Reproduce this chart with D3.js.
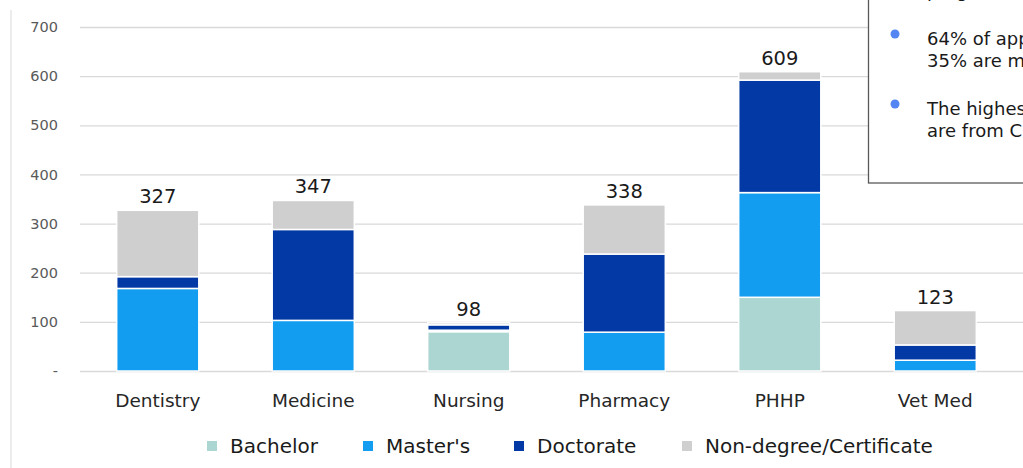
<!DOCTYPE html>
<html>
<head>
<meta charset="utf-8">
<script src="https://cdn.jsdelivr.net/npm/d3@7"></script>
<style>
  html, body { margin: 0; padding: 0; background: #fff; }
  svg { display: block; font-family: "DejaVu Sans", sans-serif; }
</style>
</head>
<body>
<svg id="chart" width="1023" height="468"></svg>
<script>
// ---- data ----
const categories = ["Dentistry", "Medicine", "Nursing", "Pharmacy", "PHHP", "Vet Med"];
const seriesNames = ["Bachelor", "Master's", "Doctorate", "Non-degree/Certificate"];
const bachelor   = [0,   0,   80, 0,   150, 0];
const masters    = [168, 103, 3,  79,  213, 22];
const doctorate  = [24,  185, 11, 159, 229, 31];
const nonDegree  = [135, 59,  4,  100, 17,  70];
const totals     = [327, 347, 98, 338, 609, 123];
const yTicks     = [0, 100, 200, 300, 400, 500, 600, 700];
const colors     = ["#acd6d2", "#139df0", "#0339a5", "#d0cfd0"];
const notes = [
  ["programs."],
  ["64% of applicants are female and", "35% are male."],
  ["The highest number of applicants", "are from China."]
];

// ---- build ----
const svg = d3.select("#chart");
const W = 1023, H = 468;

const rows = categories.map((c, i) => ({
  cat: c,
  "Bachelor": bachelor[i],
  "Master's": masters[i],
  "Doctorate": doctorate[i],
  "Non-degree/Certificate": nonDegree[i]
}));

const x = d3.scaleBand().domain(categories).range([80, 1013]).paddingInner(0.472).paddingOuter(0.236);
const y = d3.scaleLinear().domain([0, 700]).range([371, 27]);
const color = d3.scaleOrdinal().domain(seriesNames).range(colors);

// left border line
svg.append("line").attr("x1", 11).attr("x2", 11).attr("y1", 10).attr("y2", H)
  .attr("stroke", "#d9d9d9").attr("stroke-width", 1);

// gridlines + tick labels
const yAxis = d3.axisLeft(y).tickValues(yTicks).tickSize(-(W - 80))
  .tickFormat(d => d === 0 ? "-" : d3.format("d")(d)).tickPadding(22);
const gy = svg.append("g").attr("transform", "translate(80,0)").call(yAxis);
gy.select(".domain").remove();
gy.selectAll(".tick line").attr("stroke", "#d9d9d9").attr("stroke-width", 1.3);
gy.selectAll(".tick text").attr("fill", "#595959").style("font-size", "14.5px")
  .style("font-family", "'DejaVu Sans', sans-serif");

// stacked bars
const stack = d3.stack().keys(seriesNames)(rows);
svg.append("g").selectAll("g").data(stack).join("g")
  .attr("fill", d => color(d.key))
  .selectAll("rect").data(d => d).join("rect")
  .attr("x", d => x(d.data.cat))
  .attr("width", x.bandwidth())
  .attr("y", d => y(d[1]))
  .attr("height", d => Math.max(0, y(d[0]) - y(d[1])))
  .attr("stroke", "#fff").attr("stroke-width", 1.5);

// total labels
svg.append("g").selectAll("text").data(categories).join("text")
  .attr("x", d => x(d) + x.bandwidth() / 2)
  .attr("y", (d, i) => y(totals[i]) - 7)
  .attr("text-anchor", "middle")
  .attr("fill", "#1a1a1a")
  .style("font-size", "19.5px")
  .text((d, i) => totals[i]);

// x axis labels
const xAxis = d3.axisBottom(x).tickSize(0).tickPadding(0);
const gx = svg.append("g").attr("transform", "translate(0,371)").call(xAxis);
gx.select(".domain").remove();
gx.selectAll(".tick text").attr("dy", null).attr("y", 36)
  .attr("fill", "#262626").style("font-size", "18.5px")
  .style("font-family", "'DejaVu Sans', sans-serif");

// legend
const legendX = [207, 363, 514, 682];
const lg = svg.append("g").selectAll("g").data(seriesNames).join("g")
  .attr("transform", (d, i) => `translate(${legendX[i]},441)`);
lg.append("rect").attr("width", 10).attr("height", 10).attr("fill", d => color(d));
lg.append("text").attr("x", 23).attr("y", 12)
  .attr("fill", "#1a1a1a").style("font-size", "20px").text(d => d);

// note box
svg.append("rect").attr("x", 868.5).attr("y", -20).attr("width", 400).attr("height", 203)
  .attr("fill", "#fff").attr("stroke", "#595959").attr("stroke-width", 1.3);
const paraBase = [-3, 45, 115];
const lineH = 21.7;
notes.forEach((lines, pi) => {
  if (pi > 0) {
    svg.append("circle").attr("cx", 895).attr("cy", paraBase[pi] - 11).attr("r", 4.5)
      .attr("fill", "#5386f2");
  }
  lines.forEach((ln, li) => {
    svg.append("text").attr("x", 927).attr("y", paraBase[pi] + li * lineH)
      .attr("fill", "#1a1a1a").style("font-size", "18px").text(ln);
  });
});
</script>
</body>
</html>
